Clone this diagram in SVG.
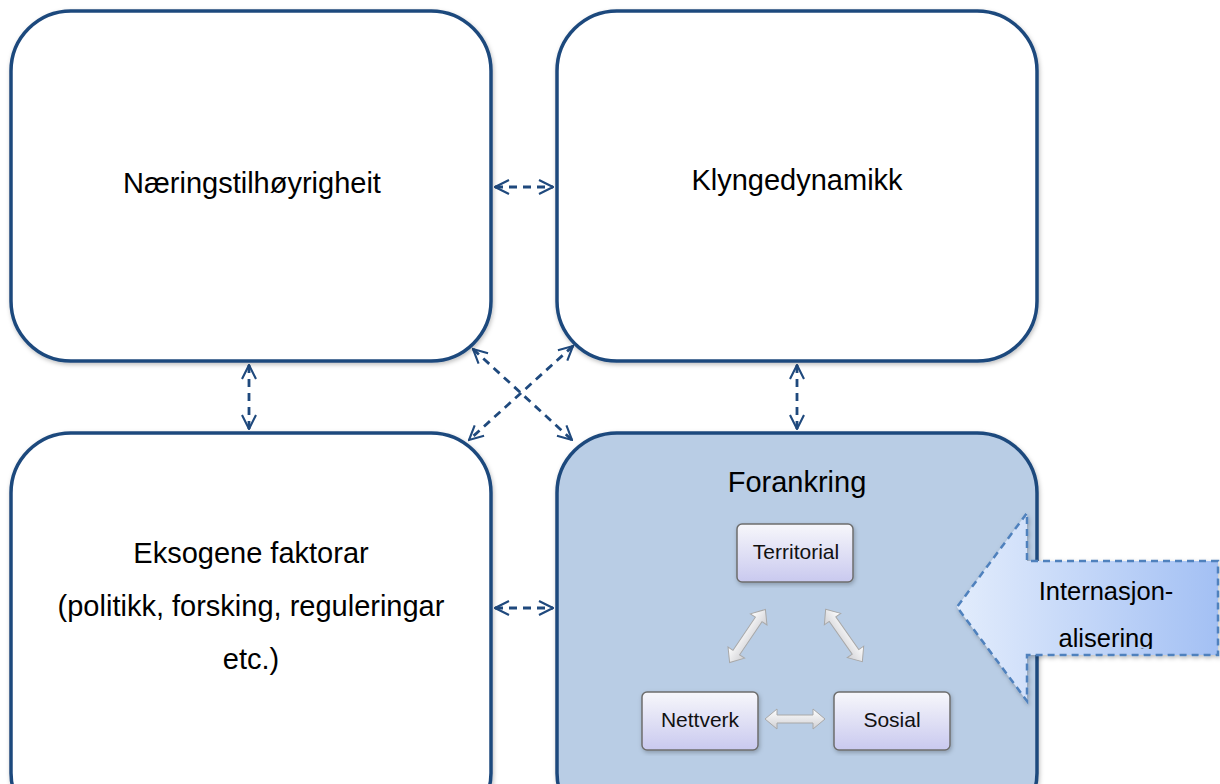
<svg xmlns="http://www.w3.org/2000/svg" width="1220" height="784" viewBox="0 0 1220 784">
<style>
.box{fill:#fff;stroke:#1F497D;stroke-width:3.5}
.boxb{fill:#B9CDE5;stroke:#1F497D;stroke-width:3.5}
.lbl{font-family:"Liberation Sans",Arial,sans-serif;font-size:29px;fill:#000;text-anchor:middle}
.sm{font-family:"Liberation Sans",Arial,sans-serif;font-size:21px;fill:#111;text-anchor:middle}
.dash{stroke:#1F497D;stroke-width:2.8;stroke-dasharray:8 6;fill:none;marker-start:url(#ah);marker-end:url(#ah)}
.inner{fill:url(#ig);stroke:#6d6d6d;stroke-width:1.5}
.fat{fill:url(#fg);stroke:#a8a8a8;stroke-width:1}
</style>
<defs>
<marker id="ah" viewBox="0 0 12 12" refX="11" refY="6" markerWidth="6" markerHeight="6" orient="auto-start-reverse" markerUnits="strokeWidth">
<path d="M1,1 L11,6 L1,11" fill="none" stroke="#1F497D" stroke-width="1.5"/>
</marker>
<linearGradient id="ig" x1="0" y1="0" x2="0" y2="1">
<stop offset="0" stop-color="#f7f7fb"/><stop offset="1" stop-color="#c9c9ef"/>
</linearGradient>
<linearGradient id="fg" x1="0" y1="0" x2="0" y2="1">
<stop offset="0" stop-color="#ffffff"/><stop offset="1" stop-color="#d0d0d4"/>
</linearGradient>
<linearGradient id="ag" x1="0" y1="0" x2="1" y2="0">
<stop offset="0" stop-color="#e2ecfc"/><stop offset="1" stop-color="#a3c0f4"/>
</linearGradient>
<filter id="sh" x="-10%" y="-10%" width="120%" height="120%">
<feDropShadow dx="1" dy="2" stdDeviation="2" flood-color="#000" flood-opacity="0.25"/>
</filter>
<clipPath id="tc"><rect x="1030" y="561" width="188" height="88"/></clipPath>
</defs>

<g id="connectors">
<line class="dash" x1="495" y1="187" x2="553" y2="187"/>
<line class="dash" x1="495" y1="608" x2="553" y2="608"/>
<line class="dash" x1="249" y1="365" x2="249" y2="429"/>
<line class="dash" x1="797" y1="365" x2="797" y2="429"/>
<line class="dash" x1="473" y1="349" x2="572" y2="440"/>
<line class="dash" x1="573" y1="346" x2="469" y2="440"/>
</g>

<g id="n1"><rect class="box" x="11" y="11" width="480" height="350" rx="60" filter="url(#sh)"/>
<text class="lbl" x="252" y="193">Næringstilhøyrigheit</text></g>

<g id="n2"><rect class="box" x="557" y="11" width="480" height="350" rx="60" filter="url(#sh)"/>
<text class="lbl" x="797" y="190">Klyngedynamikk</text></g>

<g id="n3"><rect class="box" x="11" y="433" width="480" height="400" rx="60" filter="url(#sh)"/>
<text class="lbl" x="251" y="563">Eksogene faktorar</text>
<text class="lbl" x="251" y="616">(politikk, forsking, reguleringar</text>
<text class="lbl" x="251" y="669">etc.)</text></g>

<g id="n4"><rect class="boxb" x="557" y="433" width="480" height="400" rx="60" filter="url(#sh)"/>
<text class="lbl" x="797" y="492">Forankring</text></g>

<g id="territorial"><rect class="inner" x="737" y="524" width="116" height="58" rx="5" filter="url(#sh)"/>
<text class="sm" x="796" y="559">Territorial</text></g>
<g id="nettverk"><rect class="inner" x="642" y="692" width="116" height="58" rx="5" filter="url(#sh)"/>
<text class="sm" x="700" y="727">Nettverk</text></g>
<g id="sosial"><rect class="inner" x="834" y="692" width="116" height="58" rx="5" filter="url(#sh)"/>
<text class="sm" x="892" y="727">Sosial</text></g>

<g id="fatarrows">
<path class="fat" d="M765,719 l12,-10 v6 h36 v-6 l12,10 l-12,10 v-6 h-36 v6 z"/>
<path class="fat" transform="translate(747.5,636) rotate(-56)" d="M-32,0 l12,-10 v6 h40 v-6 l12,10 l-12,10 v-6 h-40 v6 z"/>
<path class="fat" transform="translate(844,635.5) rotate(55)" d="M-32,0 l12,-10 v6 h40 v-6 l12,10 l-12,10 v-6 h-40 v6 z"/>
</g>

<g id="intl">
<path d="M1218,561 H1027 V513 L957,607 L1027,701 V655 H1218 Z" fill="url(#ag)" stroke="#4f81bd" stroke-width="2.5" stroke-dasharray="7 5" filter="url(#sh)"/>
<g clip-path="url(#tc)">
<text class="lbl" x="1106" y="600" style="font-size:25.5px">Internasjon-</text>
<text class="lbl" x="1106" y="647" style="font-size:25.5px">alisering</text>
</g>
</g>
</svg>
